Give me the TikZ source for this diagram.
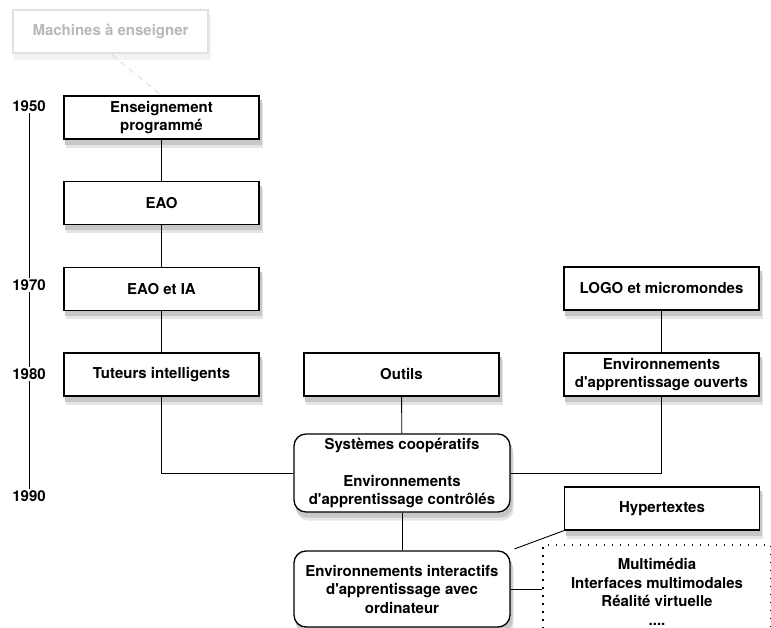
\documentclass[tikz,border=0pt]{standalone}
\usepackage{fontspec}
\setmainfont{TeX Gyre Heros}
\usetikzlibrary{backgrounds}

% ombre portee sous une boite (deux couches pour adoucir le bord)
\newcommand\ombrer[2][0pt]{%
    \fill[black!10, rounded corners=#1] ([xshift=3pt,yshift=-8pt]#2.south west) rectangle ([xshift=3pt,yshift=-8pt]#2.north east);
    \fill[black!22, rounded corners=#1] ([xshift=2pt,yshift=-5pt]#2.south west) rectangle ([xshift=2pt,yshift=-5pt]#2.north east);
}

\begin{document}
\begin{tikzpicture}[x=1pt, y=-1pt,
    boite/.style={draw=black, line width=1.3pt, fill=white, minimum width=195pt, minimum height=43pt,
        align=center, font=\bfseries\fontsize{15}{18.5}\selectfont},
    boiteronde/.style={boite, rounded corners=12pt, minimum width=216pt, minimum height=78pt},
    boitegrise/.style={boite, draw=black!12, text=black!28},
    pointille/.style={draw=black, line width=1.5pt, dash pattern=on 1.5pt off 6.5pt, fill=white, minimum width=228pt,
        minimum height=94pt, align=center, font=\bfseries\fontsize{15}{18.5}\selectfont},
    annee/.style={fill=white, inner sep=2pt, font=\bfseries\fontsize{15}{18}\selectfont},
    lien/.style={line width=0.9pt}]

    % 0. Cadre de l'image (771 x 628), le reste sort de la page
    \path[use as bounding box] (0,0) rectangle (771,628);

    % 1. Colonne de gauche (centre x = 161.5)
    \node[boitegrise] (machines) at (110.5, 31.5) {Machines à enseigner};
    \node[boite] (ens) at (161.5, 117.5) {Enseignement\\programmé};
    \node[boite] (eao) at (161.5, 203) {EAO};
    \node[boite] (eaoia) at (161.5, 289) {EAO et IA};
    \node[boite] (tuteurs) at (161.5, 374.5) {Tuteurs intelligents};

    % 2. Colonne du milieu et de droite
    \node[boite] (outils) at (401.5, 374.5) {Outils};
    \node[boite] (logo) at (661.5, 288.5) {LOGO et micromondes};
    \node[boite] (ouverts) at (661.5, 374.5) {Environnements\\d\textquotesingle apprentissage ouverts};

    % 3. Boites arrondies du bas
    \node[boiteronde] (coop) at (402, 473) {Systèmes coopératifs\\[18.5pt]Environnements\\d\textquotesingle apprentissage contrôlés};
    \node[boiteronde, minimum height=76pt] (interactifs) at (402, 589)
        {Environnements interactifs\\d\textquotesingle apprentissage avec\\ordinateur};
    \node[boite] (hyper) at (662, 508.5) {Hypertextes};
    \node[pointille] (multi) at (657, 592) {Multimédia\\Interfaces multimodales\\Réalité virtuelle\\....};

    % 4. Ombres portees (sous les boites)
    \begin{pgfonlayer}{background}
        \fill[black!5] ([xshift=2pt,yshift=-6pt]machines.south west) rectangle ([xshift=2pt,yshift=-6pt]machines.north east);
        \ombrer{ens}
        \ombrer{eao}
        \ombrer{eaoia}
        \ombrer{tuteurs}
        \ombrer{outils}
        \ombrer{logo}
        \ombrer{ouverts}
        \ombrer{hyper}
        \ombrer[12pt]{coop}
        \ombrer[12pt]{interactifs}
    \end{pgfonlayer}

    % 5. Liens entre les boites
    \draw[dashed, dash pattern=on 6pt off 5pt, black!15, line width=0.8pt, shorten <=2pt, shorten >=3pt] (machines.south) -- (ens.north);
    \draw[lien] (ens) -- (eao);
    \draw[lien] (eao) -- (eaoia);
    \draw[lien] (eaoia) -- (tuteurs);
    \draw[lien] (tuteurs.south) |- (coop.west);
    \draw[lien] (outils) -- (coop);
    \draw[lien] (logo) -- (ouverts);
    \draw[lien] (ouverts.south) |- (coop.east);
    \draw[lien] (coop) -- (interactifs);
    \draw[lien, shorten >=4pt] (hyper.south west) -- (interactifs.north east);
    \draw[lien] (interactifs.east) -- (interactifs.east -| multi.west);

    % 6. Axe du temps (x = 30)
    \node[annee] (a1950) at (29, 106) {1950};
    \node[annee] (a1970) at (29, 285) {1970};
    \node[annee] (a1980) at (29, 374) {1980};
    \node[annee] (a1990) at (29, 496) {1990};
    \begin{pgfonlayer}{background}
        \draw[lien] (a1950.center) -- (a1990.center);
    \end{pgfonlayer}

\end{tikzpicture}
\end{document}
